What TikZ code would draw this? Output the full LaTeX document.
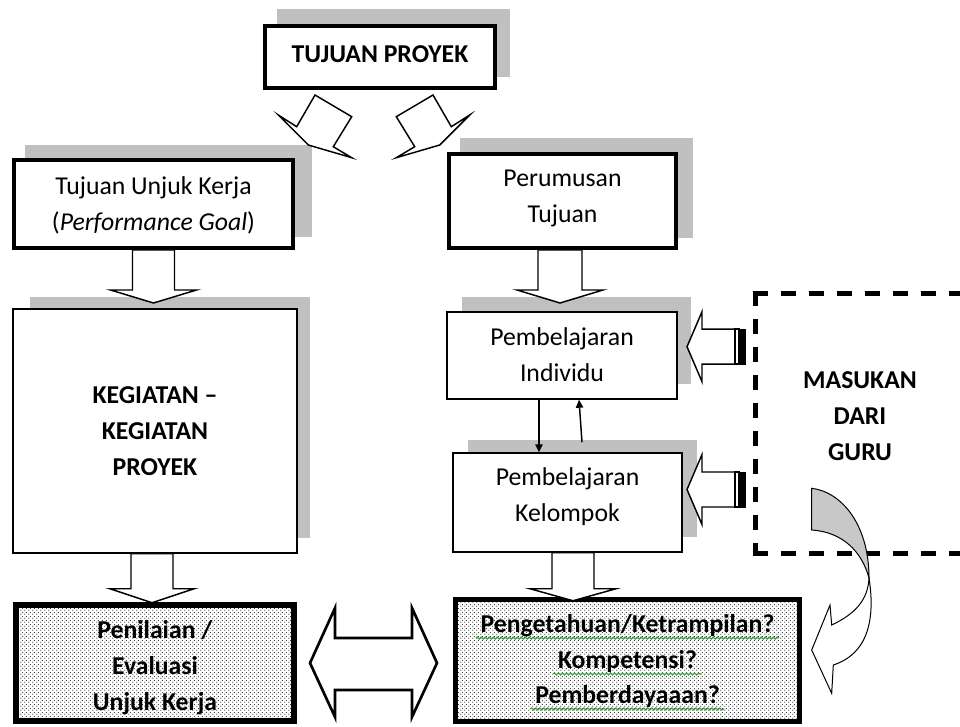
\documentclass[tikz,border=0pt]{standalone}
\usepackage{fontspec}
\setmainfont{Carlito}
\usetikzlibrary{arrows.meta,fit,calc,patterns,decorations.pathmorphing}
\pgfdeclarepatternformonly{mydots}{\pgfqpoint{0pt}{0pt}}{\pgfqpoint{3pt}{3pt}}{\pgfqpoint{3pt}{3pt}}{%
  \pgfpathcircle{\pgfqpoint{0.75pt}{0.75pt}}{0.55pt}%
  \pgfpathcircle{\pgfqpoint{2.25pt}{2.25pt}}{0.55pt}%
  \pgfusepath{fill}}
\definecolor{shadowc}{HTML}{C0C0C0}
\definecolor{curvec}{HTML}{C8C8C8}
\definecolor{spellg}{HTML}{3C9A3C}
\begin{document}
\begin{tikzpicture}[x=0.75pt,y=-0.75pt,
  txt/.style={font=\fontsize{19.3pt}{27pt}\selectfont, align=center, text=black},
  thickbox/.style={draw, line width=3pt, fill=white, inner sep=0pt},
  thinbox/.style={draw, line width=1.1pt, fill=white, inner sep=0pt},
  dotbox/.style={draw, pattern=mydots, pattern color=black!80, inner sep=0pt},
  shade/.style={fill=shadowc},
  blk/.style={draw, line width=1.1pt, fill=white, line join=miter},
  sa/.style={draw, line width=1.1pt, -{Triangle[length=6pt,width=5.5pt]}},
  dashbox/.style={draw, line width=3.75pt, dash pattern=on 11.25pt off 9.75pt},
  spell/.style={draw=spellg, line width=0.8pt, decorate, decoration={snake, amplitude=0.8pt, segment length=3pt}}]
\fill[white] (0,0) rectangle (960,726);
\useasboundingbox (0,0) rectangle (960,726);

% shadows
\fill[shade] (277,9) rectangle (510,77);
\fill[shade] (25,145) rectangle (312,237);
\fill[shade] (460,138) rectangle (693,238);
\fill[shade] (30,297) rectangle (310,538);
\fill[shade] (462,297) rectangle (691,384);
\fill[shade] (468,440) rectangle (697,537);

% boxes
\node[thickbox, fit={(265,26)(495,88)}] (tp) {};
\node[txt] (tpT) at ($(tp.center)+(0,-3)$) {\textbf{TUJUAN PROYEK}};
\node[thickbox, fit={(14,160)(293,248)}] (tuk) {};
\node[txt] (tukT) at ($(tuk.center)+(0,1.5)$) {Tujuan Unjuk Kerja\\(\textit{Performance Goal})};
\node[thickbox, fit={(449,154)(676,248)}] (per) {};
\node[txt] (perT) at ($(per.center)+(0,-2.5)$) {Perumusan\\Tujuan};
\node[thinbox, fit={(13,309)(297,553)}] (keg) {};
\node[txt] (kegT) at (keg.center) {\textbf{KEGIATAN –}\\\textbf{KEGIATAN}\\\textbf{PROYEK}};
\node[thinbox, fit={(447,312)(677,399)}] (ind) {};
\node[txt] (indT) at ($(ind.center)+(0,-1)$) {Pembelajaran\\Individu};
\node[thinbox, fit={(453,453)(682,552)}] (kel) {};
\node[txt] (kelT) at ($(kel.center)+(0,-6)$) {Pembelajaran\\Kelompok};

\node[dotbox, line width=4.5pt, fit={(16,605)(294,721)}] (pen) {};
\node[txt] (penT) at ($(pen.center)+(0,5)$) {\textbf{Penilaian /}\\\textbf{Evaluasi}\\\textbf{Unjuk Kerja}};

\node[dotbox, line width=3.75pt, fit={(455.5,599.5)(799.5,721.5)}] (peng) {};
\node[txt, anchor=base] (p1) at (627.5,632) {\textbf{Pengetahuan/Ketrampilan?}};
\node[txt, anchor=base] (p2) at (627.5,668) {\textbf{Kompetensi?}};
\node[txt, anchor=base] (p3) at (627.5,703) {\textbf{Pemberdayaaan?}};
\draw[spell] ($(p1.base west)+(0,6)$) -- ($(p1.base east)+(0,6)$);
\draw[spell] ($(p2.base west)+(0,6)$) -- ($(p2.base east)+(0,6)$);
\draw[spell] ($(p3.base west)+(0,6)$) -- ($(p3.base east)+(0,6)$);

% top skewed block arrows
\draw[blk] (278.3,115) -- (296.7,126.7) -- (315,95) -- (351.7,116.7) -- (333.3,146.7) -- (351.7,157.7) -- (308.3,145) -- cycle;
\draw[blk] (469.7,115) -- (451.3,126.7) -- (433,95) -- (396.3,116.7) -- (414.7,146.7) -- (396.3,157.7) -- (439.7,145) -- cycle;

% down block arrows
\draw[blk] ($(tuk.south)+(-21,0)$) -- ++(0,40) -- ++(-22,0) -- ++(43,13) -- ++(43,-13) -- ++(-22,0) -- ++(0,-40) -- cycle;
\draw[blk] ($(per.south)+(-2.5,0)+(-22,0)$) -- ++(0,40) -- ++(-21,0) -- ++(43,13) -- ++(43,-13) -- ++(-21,0) -- ++(0,-40) -- cycle;
\draw[blk] ($(keg.south)+(-3,0)+(-21,0)$) -- ++(0,35) -- ++(-21,0) -- ++(42,14) -- ++(42,-14) -- ++(-21,0) -- ++(0,-35) -- cycle;
\draw[blk] ($(kel.south)+(5.5,0)+(-21,0)$) -- ++(0,36) -- ++(-22,0) -- ++(43,12) -- ++(43,-12) -- ++(-22,0) -- ++(0,-36) -- cycle;

% small arrows between Pembelajaran boxes
\draw[sa] ($(ind.south)+(-23,0)$) -- ($(kel.north)+(-28.5,0)$);
\draw[sa] ($(kel.north)+(14.5,-10)$) -- ($(ind.south)+(17,0)$);

% double arrow between bottom boxes
\draw[blk, line width=2pt] (310,663) -- (335,608) -- (335,638) -- (412,638) -- (412,608) -- (437,663) -- (412,717) -- (412,690) -- (335,690) -- (335,717) -- cycle;

% dashed box
\draw[dashbox] (752.5,293) -- (965,293);
\draw[dashbox] (755,290.5) -- (755,555.5);
\draw[dashbox] (752.5,553) -- (965,553);
\node[txt] (mas) at (860,416) {\textbf{MASUKAN}\\\textbf{DARI}\\\textbf{GURU}};

% striped arrows
\coordinate (t1) at (687,346.7);
\coordinate (t2) at (687,489.5);
\foreach \t in {t1,t2}{
  \draw[blk] (\t) -- ++(15,-35) -- ++(0,17.5) -- ++(33,0) -- ++(0,35) -- ++(-33,0) -- ++(0,17.5) -- cycle;
  \draw[line width=1.1pt, fill=white] ($(\t)+(48,-17.5)$) rectangle ($(\t)+(52,17.5)$);
  \fill[black] ($(\t)+(52,-18)$) rectangle ($(\t)+(58.5,18)$);
}

% curved arrow
\draw[line width=0.75pt, fill=curvec] (811.7,488.3) .. controls (842,492) and (869,525) .. (869,578) .. controls (862,552) and (843,532) .. (811.7,530) -- cycle;
\draw[line width=0.75pt, fill=white, line join=miter] (869,578) .. controls (874,610) and (873,652) .. (833.3,665) -- (831.7,693.3) -- (811.7,650) -- (830,605) -- (831.7,625) .. controls (855,614) and (868,600) .. (869,578) -- cycle;
\end{tikzpicture}
\end{document}
